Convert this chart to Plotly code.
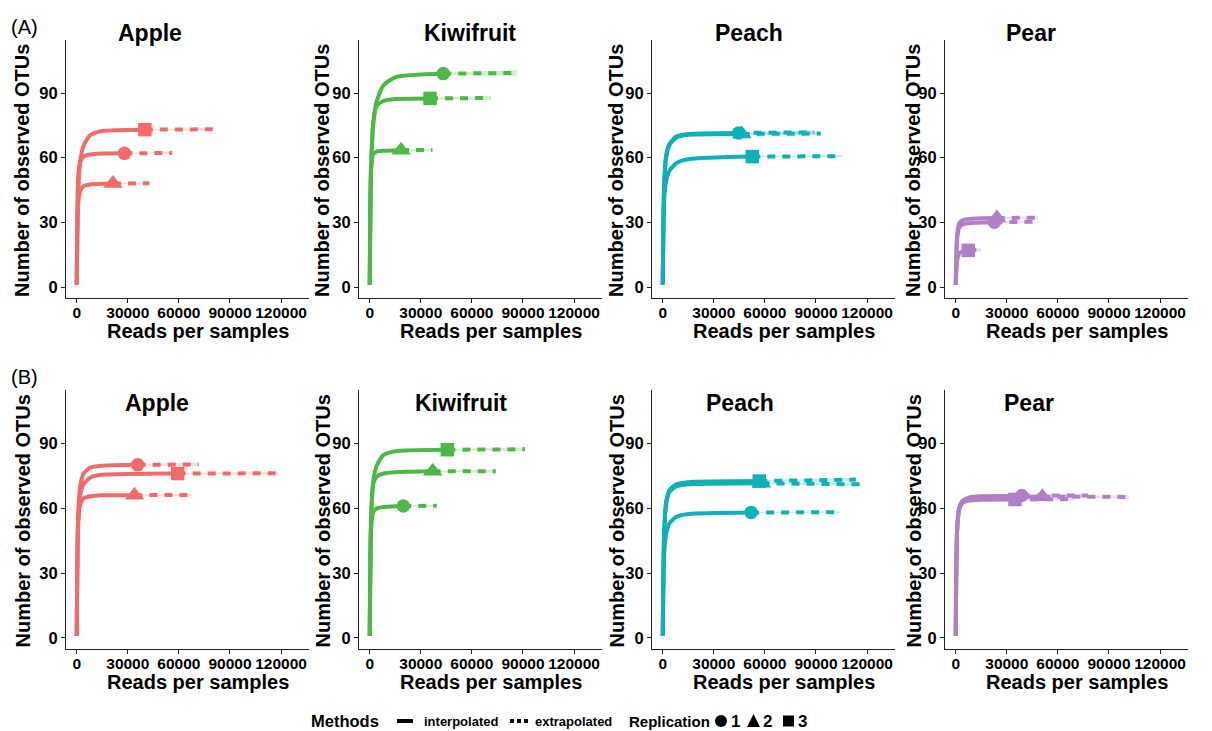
import plotly.graph_objects as go

W, H = 1212, 731
FONT = "Liberation Sans, Arial, sans-serif"

FRUITS = ["Apple", "Kiwifruit", "Peach", "Pear"]
COLORS = ["#F26B6B", "#4DB847", "#0FB0B8", "#B07FC6"]
BANDS = ["rgba(242,107,107,0.25)", "rgba(77,184,71,0.25)", "rgba(15,176,184,0.25)", "rgba(176,127,198,0.25)"]
REPS = ["1", "2", "3"]
SYMBOLS = ["circle", "triangle-up", "square"]
DEPTHS = [0, 800, 2000, 4000, 8000, 15000]
X_TICKS = [0, 30000, 60000, 90000, 120000]
Y_TICKS = [0, 30, 60, 90]

# ---------------- Row A ----------------
A_APPLE_N = [28000, 21300, 40000]
A_APPLE_S = [62, 48, 73]
A_APPLE_RISE = [[1, 50, 58, 60.5, 61.5, 61.9], [1, 38, 44.5, 46.8, 47.6, 47.9], [1, 42, 58, 65.5, 70.5, 72.4]]
A_APPLE_XEND = [56000, 42600, 80000]
A_APPLE_YEND = [62.2, 48.1, 73.2]
A_APPLE_CI = [0.5, 0.5, 0.6]

A_KIWI_N = [43200, 18400, 35400]
A_KIWI_S = [99, 63.5, 87.5]
A_KIWI_RISE = [[1, 55, 75, 86, 93.5, 97.3], [1, 55, 61.5, 62.8, 63.2, 63.4], [1, 55, 76, 84, 86.3, 87.2]]
A_KIWI_XEND = [86400, 36800, 70800]
A_KIWI_YEND = [99.3, 63.6, 87.7]
A_KIWI_CI = [1.3, 0.6, 0.9]

A_PEACH_N = [44500, 46400, 52600]
A_PEACH_S = [71.5, 71.0, 60.5]
A_PEACH_RISE = [[1, 47, 61, 66.5, 69.8, 71], [1, 45, 60, 66, 69.3, 70.6], [1, 40, 49, 54, 57.5, 59.3]]
A_PEACH_XEND = [89000, 92800, 105200]
A_PEACH_YEND = [71.8, 71.2, 60.7]
A_PEACH_CI = [0.8, 0.8, 0.5]

A_PEAR_N = [22700, 24100, 7400]
A_PEAR_S = [30, 32, 17]
A_PEAR_RISE = [[1, 22, 27.5, 29, 29.6, 29.9], [1, 24, 29.5, 31, 31.6, 31.9], [1, 12, 15.5, 16.7]]
A_PEAR_XEND = [45400, 48200, 14800]
A_PEAR_YEND = [30.3, 32.2, 17.3]
A_PEAR_CI = [0.8, 0.8, 0.8]

# ---------------- Row B ----------------
B_APPLE_N = [35800, 33900, 59300]
B_APPLE_S = [80, 66, 76]
B_APPLE_RISE = [[1, 55, 70, 76, 78.8, 79.6], [1, 52, 61.5, 64.5, 65.5, 65.9], [1, 53, 66, 71, 74.2, 75.4]]
B_APPLE_XEND = [71600, 67800, 118600]
B_APPLE_YEND = [80.2, 66.1, 76.1]
B_APPLE_CI = [0.8, 0.6, 0.6]

B_KIWI_N = [19700, 37000, 45600]
B_KIWI_S = [61, 77, 87]
B_KIWI_RISE = [[1, 50, 58, 59.8, 60.5, 60.9], [1, 55, 71, 74.5, 76, 76.6], [1, 55, 72, 79.5, 84.5, 86.3]]
B_KIWI_XEND = [39400, 74000, 91200]
B_KIWI_YEND = [61.1, 77.1, 87.2]
B_KIWI_CI = [0.6, 0.7, 0.8]

B_PEACH_N = [51900, 58000, 56700]
B_PEACH_S = [58, 71.5, 72.5]
B_PEACH_RISE = [[1, 38, 48, 53, 56, 57.3], [1, 47, 62, 67.5, 70, 71], [1, 48, 63, 68.5, 71, 72]]
B_PEACH_XEND = [103800, 116000, 113400]
B_PEACH_YEND = [58.1, 71.0, 73.2]
B_PEACH_CI = [0.5, 0.8, 0.8]

B_PEAR_N = [38800, 50900, 34800]
B_PEAR_S = [65.8, 65.3, 64.0]
B_PEAR_RISE = [[1, 50, 60, 63.5, 65, 65.5], [1, 50, 59.5, 63, 64.5, 65], [1, 49, 59, 62.5, 63.5, 63.9]]
B_PEAR_XEND = [77600, 101800, 69600]
B_PEAR_YEND = [65.8, 65.2, 64.2]
B_PEAR_CI = [0.7, 0.8, 0.7]

PANELS = [
    [(A_APPLE_N, A_APPLE_S, A_APPLE_RISE, A_APPLE_XEND, A_APPLE_YEND, A_APPLE_CI),
     (A_KIWI_N, A_KIWI_S, A_KIWI_RISE, A_KIWI_XEND, A_KIWI_YEND, A_KIWI_CI),
     (A_PEACH_N, A_PEACH_S, A_PEACH_RISE, A_PEACH_XEND, A_PEACH_YEND, A_PEACH_CI),
     (A_PEAR_N, A_PEAR_S, A_PEAR_RISE, A_PEAR_XEND, A_PEAR_YEND, A_PEAR_CI)],
    [(B_APPLE_N, B_APPLE_S, B_APPLE_RISE, B_APPLE_XEND, B_APPLE_YEND, B_APPLE_CI),
     (B_KIWI_N, B_KIWI_S, B_KIWI_RISE, B_KIWI_XEND, B_KIWI_YEND, B_KIWI_CI),
     (B_PEACH_N, B_PEACH_S, B_PEACH_RISE, B_PEACH_XEND, B_PEACH_YEND, B_PEACH_CI),
     (B_PEAR_N, B_PEAR_S, B_PEAR_RISE, B_PEAR_XEND, B_PEAR_YEND, B_PEAR_CI)],
]

# ---------------- layout geometry (pixels) ----------------
PANEL_LEFT = [66, 359, 652, 945]
PANEL_W = 243
ROW_TOP = [40, 390]
ROW_BOTTOM = [298, 649]
TITLE_X = [[150, 470, 749, 1031], [157, 461, 740, 1029]]
TITLE_Y = [33, 403]
YTITLE_X = [22, 322, 616, 913]
XTITLE_Y = [331, 682]


def px(x):
    return x / W


def py(y):
    return 1 - y / H


fig = go.Figure()
layout = {}
annotations = []
shapes = []

for r in range(2):
    for c in range(4):
        k = r * 4 + c + 1
        xa = "x" if k == 1 else f"x{k}"
        ya = "y" if k == 1 else f"y{k}"
        N, S, RISE, XEND, YEND, CI = PANELS[r][c]
        col = COLORS[c]
        # bands
        for i in range(3):
            fig.add_trace(go.Scatter(
                x=[N[i], XEND[i], XEND[i], N[i]],
                y=[S[i] - CI[i] * 0.4, YEND[i] - CI[i], YEND[i] + CI[i], S[i] + CI[i] * 0.4],
                fill="toself", fillcolor=BANDS[c], line=dict(width=0),
                mode="lines", xaxis=xa, yaxis=ya, showlegend=False, hoverinfo="skip"))
        # lines
        for i in range(3):
            dx = [d for d in DEPTHS if d < N[i]]
            fig.add_trace(go.Scatter(
                x=dx + [N[i]], y=RISE[i][:len(dx)] + [S[i]],
                mode="lines", line=dict(color=col, width=4, shape="spline", smoothing=0.6),
                xaxis=xa, yaxis=ya, showlegend=False))
            fig.add_trace(go.Scatter(
                x=[N[i], XEND[i]], y=[S[i], YEND[i]],
                mode="lines", line=dict(color=col, width=4, dash="8px,7px"),
                xaxis=xa, yaxis=ya, showlegend=False))
        # markers
        for i in range(3):
            fig.add_trace(go.Scatter(
                x=[N[i]], y=[S[i]], mode="markers",
                marker=dict(symbol=SYMBOLS[i], size=17 if i == 1 else 13.5, color=col, line=dict(width=0)),
                xaxis=xa, yaxis=ya, showlegend=False, name=REPS[i]))

        left = PANEL_LEFT[c]
        axis_common = dict(
            showline=True, linecolor="#222222", linewidth=1.2, showgrid=False, zeroline=False,
            ticks="outside", ticklen=4, tickwidth=1.2, tickcolor="#222222", tickangle=0,
            tickfont=dict(family=FONT, size=15.5, color="black", weight="bold"),
        )
        layout["xaxis" if k == 1 else f"xaxis{k}"] = dict(
            axis_common, domain=[px(left), px(left + PANEL_W)], anchor=ya,
            range=[-6300, 136400], tickvals=X_TICKS, ticktext=[str(v) for v in X_TICKS],
            ticklabelstandoff=-4)
        layout["yaxis" if k == 1 else f"yaxis{k}"] = dict(
            axis_common, domain=[py(ROW_BOTTOM[r]), py(ROW_TOP[r])], anchor=xa,
            range=[-5.1, 114.6], tickvals=Y_TICKS, ticktext=[str(v) for v in Y_TICKS],
            tickfont=dict(family=FONT, size=16.5, color="black", weight="bold"))

        annotations.append(dict(
            text=f"<b>{FRUITS[c]}</b>", x=px(TITLE_X[r][c]), y=py(TITLE_Y[r]),
            xref="paper", yref="paper", showarrow=False, xanchor="center", yanchor="middle",
            font=dict(family=FONT, size=23, color="black")))
        annotations.append(dict(
            text="<b>Number of observed OTUs</b>", x=px(YTITLE_X[c]),
            y=py((ROW_TOP[r] + ROW_BOTTOM[r]) / 2 + 2), textangle=-90,
            xref="paper", yref="paper", showarrow=False, xanchor="center", yanchor="middle",
            font=dict(family=FONT, size=20, color="black")))
        annotations.append(dict(
            text="<b>Reads per samples</b>", x=px(left + 132), y=py(XTITLE_Y[r]),
            xref="paper", yref="paper", showarrow=False, xanchor="center", yanchor="middle",
            font=dict(family=FONT, size=20, color="black")))

# row labels
for lab, yy in [("(A)", 27), ("(B)", 377)]:
    annotations.append(dict(text=lab, x=px(24), y=py(yy), xref="paper", yref="paper",
                            showarrow=False, xanchor="center", yanchor="middle",
                            font=dict(family=FONT, size=20, color="black")))

# bottom legend
LY = 721
annotations += [
    dict(text="<b>Methods</b>", x=px(345), y=py(LY), font=dict(family=FONT, size=16.5, color="black")),
    dict(text="<b>interpolated</b>", x=px(461), y=py(LY), font=dict(family=FONT, size=13, color="black")),
    dict(text="<b>extrapolated</b>", x=px(573), y=py(LY), font=dict(family=FONT, size=13, color="black")),
    dict(text="<b>Replication</b>", x=px(669), y=py(LY), font=dict(family=FONT, size=15, color="black")),
    dict(text="<b>1</b>", x=px(735), y=py(LY), font=dict(family=FONT, size=17, color="black")),
    dict(text="<b>2</b>", x=px(767.5), y=py(LY), font=dict(family=FONT, size=17, color="black")),
    dict(text="<b>3</b>", x=px(802), y=py(LY), font=dict(family=FONT, size=17, color="black")),
]
for a in annotations[-7:]:
    a.update(xref="paper", yref="paper", showarrow=False, xanchor="center", yanchor="middle")

shapes += [
    dict(type="line", xref="paper", yref="paper", x0=px(397), x1=px(413), y0=py(LY), y1=py(LY),
         line=dict(color="black", width=4)),
    dict(type="line", xref="paper", yref="paper", x0=px(510), x1=px(530), y0=py(LY), y1=py(LY),
         line=dict(color="black", width=4, dash="4px,3px")),
    dict(type="circle", xref="paper", yref="paper", x0=px(715), x1=px(727), y0=py(LY + 6), y1=py(LY - 6),
         fillcolor="black", line=dict(width=0)),
    dict(type="path", xref="paper", yref="paper",
         path=f"M {px(747)} {py(LY + 6)} L {px(760)} {py(LY + 6)} L {px(753.5)} {py(LY - 7)} Z",
         fillcolor="black", line=dict(width=0)),
    dict(type="rect", xref="paper", yref="paper", x0=px(783), x1=px(794), y0=py(LY + 5.5), y1=py(LY - 5.5),
         fillcolor="black", line=dict(width=0)),
]

fig.update_layout(
    width=W, height=H, margin=dict(l=0, r=0, t=0, b=0),
    paper_bgcolor="white", plot_bgcolor="white",
    showlegend=False, annotations=annotations, shapes=shapes,
    font=dict(family=FONT),
    **layout,
)

fig.write_html("out.html", config={"displayModeBar": False},
               post_script="document.body.style.margin='0';document.body.style.overflow='hidden';")
